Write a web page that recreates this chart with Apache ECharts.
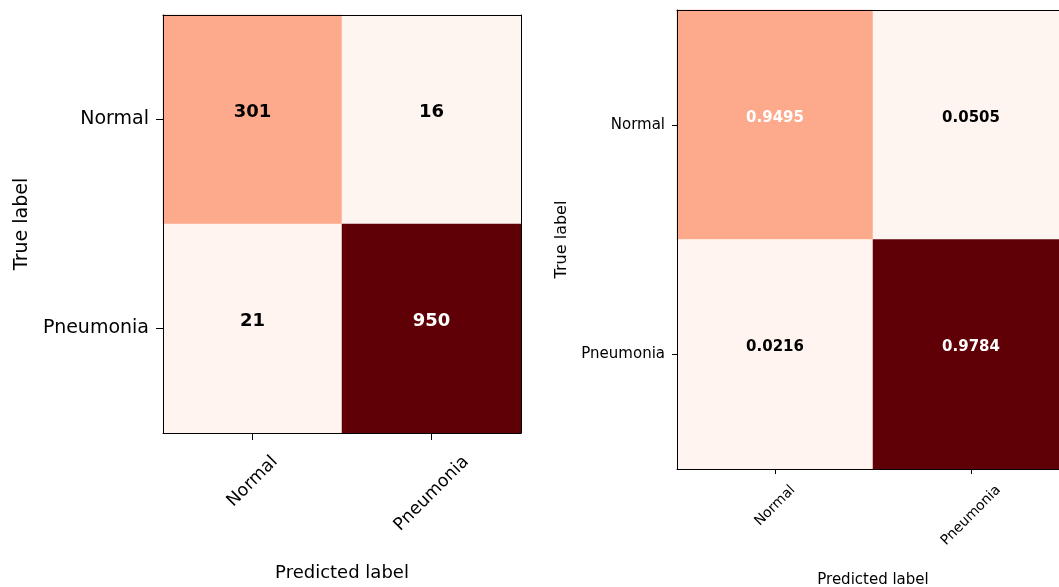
<!DOCTYPE html>
<html>
<head>
<meta charset="utf-8">
<script src="https://cdn.jsdelivr.net/npm/echarts@6/dist/echarts.min.js"></script>
<style>
  html, body { margin: 0; padding: 0; background: #fff; }
  #chart { width: 1059px; height: 587px; }
</style>
</head>
<body>
<div id="chart"></div>
<script>
const classes = ['Normal', 'Pneumonia']
// rows = true label, cols = predicted label
const counts = [[301, 16], [21, 950]]
const rates = [[0.9495, 0.0505], [0.0216, 0.9784]]
// matplotlib Reds (last stop a touch darker, as in the picture)
const reds = ['#fff5f0', '#fee0d2', '#fcbba1', '#fc9272', '#fb6a4a', '#ef3b2c', '#cb181d', '#a00c12', '#5f0007']

const FONT = 'DejaVu Sans'
const ctx = document.createElement('canvas').getContext('2d')
function textWidth(text, size) {
  ctx.font = size + 'px "' + FONT + '"'
  return ctx.measureText(text).width
}

// rotated tick labels centred under the tick, like matplotlib rotation=45
function rotatedLabels(size) {
  const rich = {}
  classes.forEach((c, i) => {
    const p = (textWidth(c, size) + size) / 2
    rich['c' + i] = { fontSize: size, fontFamily: FONT, color: '#000', padding: [p, p, 0, 0] }
  })
  return {
    formatter: (val, idx) => '{c' + idx + '|' + val + '}',
    rich
  }
}

function cells(values, limit, fmt) {
  const out = []
  for (let i = 0; i < classes.length; i++) {
    for (let j = 0; j < classes.length; j++) {
      const v = values[i][j]
      out.push({
        value: [j, i, counts[i][j], v],
        label: { formatter: fmt(v), color: v > limit ? '#fff' : '#000' }
      })
    }
  }
  return out
}

function axes(g, o) {
  const line = { show: true, lineStyle: { color: '#000', width: 1 } }
  const xRot = rotatedLabels(o.xFont)
  return {
    x: [{
      type: 'category', gridIndex: g, data: classes, position: 'bottom', z: 10,
      axisLine: line,
      axisTick: { show: true, alignWithLabel: true, length: o.tick, lineStyle: { color: '#000' } },
      axisLabel: { interval: 0, rotate: 45, align: 'center', verticalAlign: 'middle', margin: o.xMargin, formatter: xRot.formatter, rich: xRot.rich },
      splitLine: { show: false },
      name: 'Predicted label', nameLocation: 'middle', nameGap: o.xNameGap,
      nameTextStyle: { fontSize: o.nameFont, fontFamily: FONT, color: '#000', verticalAlign: 'middle' }
    }, {
      type: 'category', gridIndex: g, data: classes, position: 'top', z: 10,
      axisLine: line, axisTick: { show: false }, axisLabel: { show: false }, splitLine: { show: false }
    }],
    y: [{
      type: 'category', gridIndex: g, data: classes, inverse: true, position: 'left', z: 10,
      axisLine: line,
      axisTick: { show: true, alignWithLabel: true, length: o.tick, lineStyle: { color: '#000' } },
      axisLabel: { interval: 0, fontSize: o.yFont, fontFamily: FONT, color: '#000', margin: o.yMargin },
      splitLine: { show: false },
      name: 'True label', nameLocation: 'middle', nameGap: o.yNameGap,
      nameTextStyle: { fontSize: o.yNameFont, fontFamily: FONT, color: '#000', verticalAlign: 'middle' }
    }, {
      type: 'category', gridIndex: g, data: classes, inverse: true, position: 'right', z: 10,
      axisLine: line, axisTick: { show: false }, axisLabel: { show: false }, splitLine: { show: false }
    }]
  }
}

const a0 = axes(0, { xFont: 17.5, yFont: 19, tick: 7, xMargin: 20, yMargin: 14, xNameGap: 140, yNameGap: 141, nameFont: 18, yNameFont: 19 })
const a1 = axes(1, { xFont: 14, yFont: 15, tick: 5, xMargin: 14, yMargin: 12, xNameGap: 111, yNameGap: 115, nameFont: 15, yNameFont: 16 })

const maxCount = Math.max(...counts.flat())
const maxRate = Math.max(...rates.flat())

const chart = echarts.init(document.getElementById('chart'), null, { renderer: 'canvas' })
chart.setOption({
  animation: false,
  backgroundColor: '#fff',
  grid: [
    { left: 163, top: 15, width: 358, height: 418, outerBoundsMode: 'none', containLabel: false },
    { left: 677, top: 10, width: 392, height: 459, outerBoundsMode: 'none', containLabel: false }
  ],
  xAxis: [...a0.x, ...a1.x],
  yAxis: [...a0.y, ...a1.y],
  visualMap: {
    show: false,
    type: 'continuous',
    seriesIndex: [0, 1],
    dimension: 2,
    min: Math.min(...counts.flat()),
    max: maxCount,
    inRange: { color: reds }
  },
  series: [{
    type: 'heatmap',
    xAxisIndex: 0,
    yAxisIndex: 0,
    data: cells(counts, maxCount / 2, v => String(v)),
    label: { show: true, fontSize: 18, fontWeight: 'bold', fontFamily: FONT, offset: [0, -7] },
    emphasis: { disabled: true }
  }, {
    type: 'heatmap',
    xAxisIndex: 2,
    yAxisIndex: 2,
    data: cells(rates, maxRate / 2, v => v.toFixed(4)),
    label: { show: true, fontSize: 15, fontWeight: 'bold', fontFamily: FONT, offset: [0, -7] },
    emphasis: { disabled: true }
  }]
})
</script>
</body>
</html>
